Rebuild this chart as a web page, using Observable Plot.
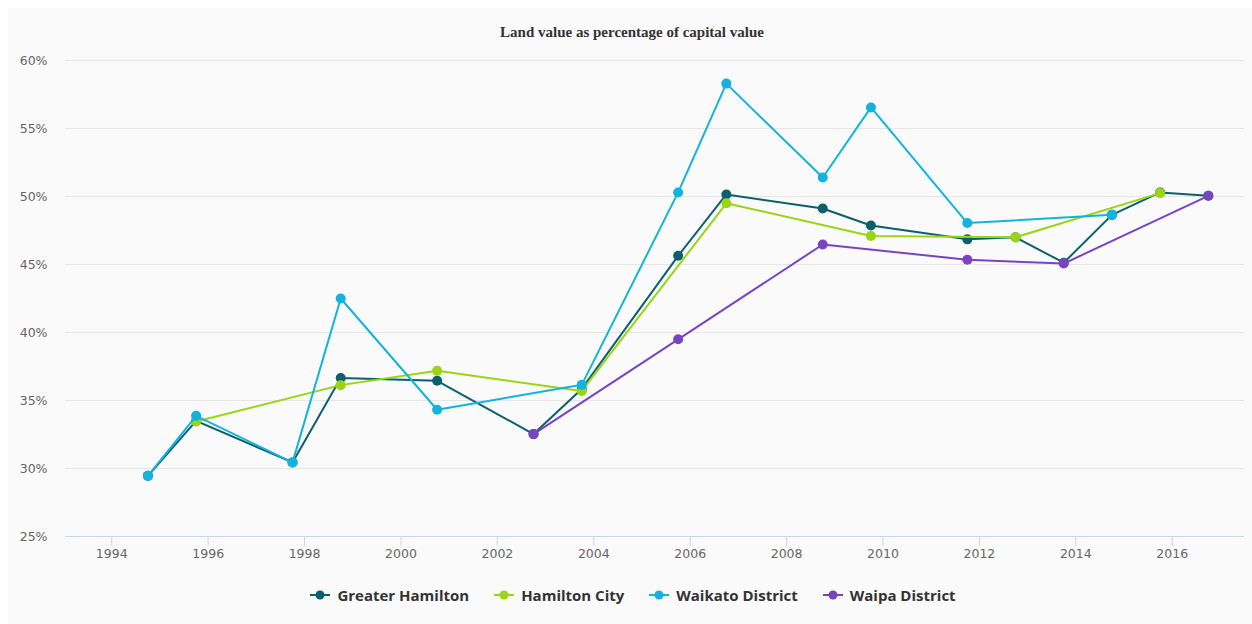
<!DOCTYPE html>
<html>
<head>
<meta charset="utf-8">
<script src="https://cdn.jsdelivr.net/npm/d3@7"></script>
<script src="https://cdn.jsdelivr.net/npm/@observablehq/plot@0.6"></script>
<style>
  html, body { margin: 0; padding: 0; background: #ffffff; }
  #wrap { position: relative; width: 1252px; height: 624px; overflow: hidden; }
  #panel { position: absolute; left: 8px; top: 8px; right: 0; bottom: 0; background: #fafafa; }
  #title { position: absolute; left: 0; width: 1264px; top: 24px; text-align: center;
           font-family: "Liberation Serif", serif; font-weight: bold; font-size: 15px; color: #333; }
  #chart { position: absolute; left: 0; top: 0; }
  #legend { position: absolute; left: 0; width: 1266px; top: 584px; height: 22px;
            display: flex; justify-content: center; align-items: center; gap: 25px;
            font-family: "Open Sans", sans-serif; font-weight: bold; font-size: 15px; color: #333; }
  .item { display: flex; align-items: center; gap: 7px; }
</style>
</head>
<body>
<div id="wrap">
  <div id="panel"></div>
  <div id="chart"></div>
  <div id="title">Land value as percentage of capital value</div>
  <div id="legend"></div>
</div>
<script>
// ---- Data ----
const seriesNames = ["Greater Hamilton", "Hamilton City", "Waikato District", "Waipa District"];
const seriesColors = ["#0b6070", "#9ad414", "#12b4de", "#7a43c2"];

const greaterHamiltonYears = [1994.75, 1995.75, 1997.75, 1998.75, 2000.75, 2002.75, 2003.75, 2005.75, 2006.75, 2008.75, 2009.75, 2011.75, 2012.75, 2013.75, 2014.75, 2015.75, 2016.75];
const greaterHamiltonValues = [29.46, 33.5, 30.45, 36.65, 36.45, 32.53, 35.85, 45.64, 50.15, 49.12, 47.87, 46.85, 47.0, 45.13, 48.65, 50.3, 50.05];

const hamiltonCityYears = [1995.75, 1998.75, 2000.75, 2003.75, 2006.75, 2009.75, 2012.75, 2015.75];
const hamiltonCityValues = [33.45, 36.13, 37.18, 35.7, 49.5, 47.1, 47.0, 50.25];

const waikatoYears = [1994.75, 1995.75, 1997.75, 1998.75, 2000.75, 2003.75, 2005.75, 2006.75, 2008.75, 2009.75, 2011.75, 2014.75];
const waikatoValues = [29.46, 33.87, 30.45, 42.5, 34.32, 36.15, 50.3, 58.3, 51.4, 56.55, 48.05, 48.65];

const waipaYears = [2002.75, 2005.75, 2008.75, 2011.75, 2013.75, 2016.75];
const waipaValues = [32.53, 39.5, 46.47, 45.35, 45.07, 50.05];

const xTicks = [1994, 1996, 1998, 2000, 2002, 2004, 2006, 2008, 2010, 2012, 2014, 2016];
const yTicks = [25, 30, 35, 40, 45, 50, 55, 60];

// ---- Build tables ----
const yearsList = [greaterHamiltonYears, hamiltonCityYears, waikatoYears, waipaYears];
const valuesList = [greaterHamiltonValues, hamiltonCityValues, waikatoValues, waipaValues];
const series = seriesNames.map((name, i) => ({
  name, color: seriesColors[i],
  rows: yearsList[i].map((x, j) => ({ series: name, x, y: valuesList[i][j] }))
}));

const seriesMarks = series.flatMap(s => [
  Plot.line(s.rows, { x: "x", y: "y", stroke: s.color, strokeWidth: 2, curve: "linear" }),
  Plot.dot(s.rows, { x: "x", y: "y", fill: s.color, r: 5, stroke: "none" })
]);

const chart = Plot.plot({
  width: 1252,
  height: 570,
  marginLeft: 65,
  marginRight: 8,
  marginTop: 60,
  marginBottom: 34,
  style: { background: "transparent", fontFamily: "DejaVu Sans, sans-serif", overflow: "visible" },
  x: { domain: [1993.04, 2017.5], axis: null },
  y: { domain: [25, 60], axis: null },
  marks: [
    Plot.gridY(yTicks.filter(d => d !== 25), { stroke: "#e6e6e6", strokeOpacity: 1 }),
    Plot.axisY(yTicks, { tickSize: 0, tickPadding: 18, tickFormat: d => d + "%", fill: "#666", fontSize: 12.5, label: null }),
    Plot.axisX(xTicks, { tickSize: 10, tickPadding: 3, stroke: "#ccd6eb", strokeOpacity: 1, fill: "#666", fontSize: 12.5, tickFormat: d => String(d), label: null }),
    Plot.ruleY([25], { stroke: "#ccd6eb", strokeWidth: 1 }),
    ...seriesMarks
  ]
});
document.getElementById("chart").appendChild(chart);

// ---- Legend ----
const legend = document.getElementById("legend");
series.forEach(s => {
  const item = document.createElement("div");
  item.className = "item";
  item.innerHTML = `<svg width="20" height="10"><line x1="0" y1="5" x2="20" y2="5" stroke="${s.color}" stroke-width="2"/><circle cx="10" cy="5" r="4.5" fill="${s.color}"/></svg><span>${s.name}</span>`;
  legend.appendChild(item);
});
</script>
</body>
</html>
